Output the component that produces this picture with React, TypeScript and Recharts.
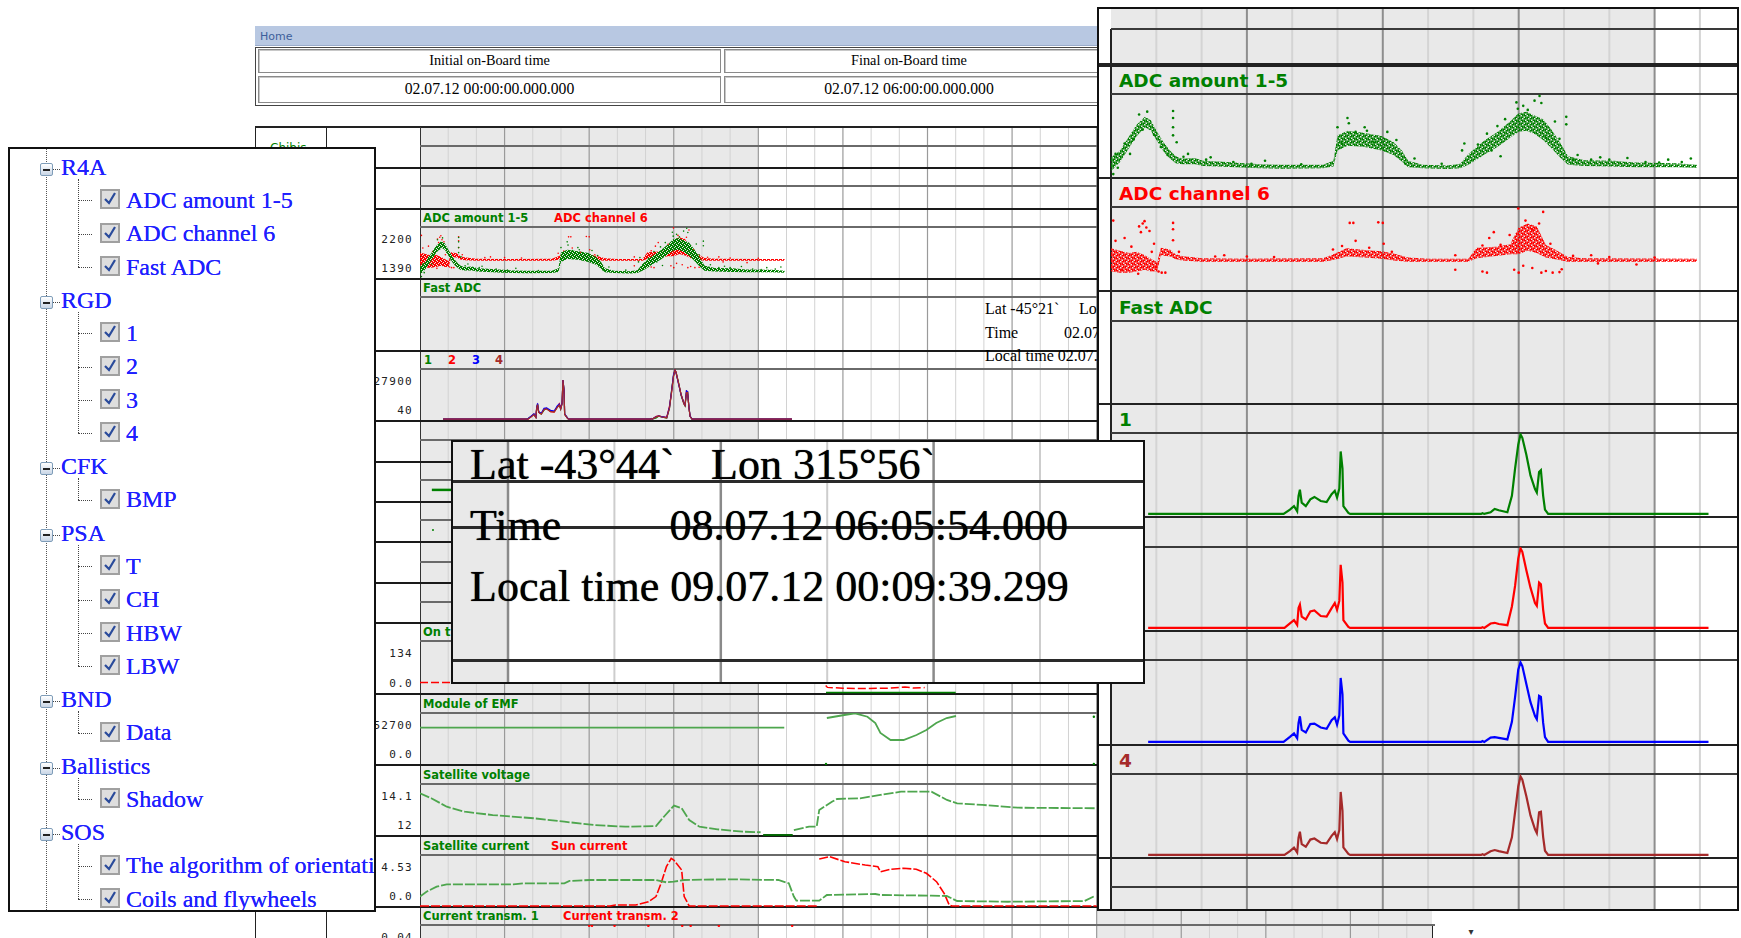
import React from 'react';
import { ComposedChart, Line, Area, XAxis, YAxis, ReferenceArea, ReferenceLine } from 'recharts';

// ===================== DATA =====================
// x unit = one grid interval of the time axis (15 min); y in instrument units

// R4A "ADC amount 1-5": noisy band [k, low, high]
const adcAmountBand: number[][] = [
  [0.0, 1200, 1440], [0.2, 1360, 1560], [0.38, 1580, 1780], [0.56, 1800, 2000], [0.75, 1960, 2140],
  [0.88, 1900, 2080], [1.02, 1720, 1880], [1.16, 1540, 1700], [1.3, 1420, 1560], [1.43, 1340, 1460],
  [1.57, 1320, 1420], [1.85, 1320, 1430], [2.03, 1290, 1380], [2.4, 1280, 1370], [2.94, 1260, 1340],
  [3.31, 1250, 1320], [3.77, 1245, 1310], [4.68, 1250, 1310], [4.91, 1280, 1380], [5.0, 1560, 1820],
  [5.23, 1640, 1900], [5.6, 1620, 1860], [5.97, 1560, 1810], [6.24, 1480, 1700], [6.42, 1370, 1560],
  [6.56, 1270, 1380], [6.88, 1250, 1310], [7.43, 1240, 1300], [7.71, 1250, 1330], [7.89, 1310, 1500],
  [8.07, 1400, 1620], [8.26, 1500, 1740], [8.53, 1620, 1880], [8.81, 1780, 2060], [8.99, 1880, 2200],
  [9.17, 1900, 2230], [9.36, 1840, 2160], [9.54, 1740, 2100], [9.72, 1600, 1920], [9.91, 1440, 1700],
  [10.09, 1310, 1460], [10.45, 1290, 1390], [11.1, 1280, 1380], [11.55, 1270, 1350], [12.47, 1270, 1340],
  [12.93, 1255, 1310],
];
const adcAmountDots: number[][] = [
  [0.05, 1150], [0.1, 1500], [0.3, 1680], [0.42, 1500], [0.62, 2180], [0.8, 2230], [1.37, 2240], [1.37, 2120],
  [1.37, 1960], [1.37, 1820], [1.45, 1700], [1.7, 1500], [2.2, 1440], [3.4, 1380], [5.0, 1960], [5.22, 2120],
  [5.25, 2030], [5.6, 1960], [5.65, 1900], [6.1, 1880], [6.7, 1420], [7.3, 1330], [7.75, 1560], [7.8, 1680],
  [8.3, 1850], [8.53, 1980], [8.6, 1460], [8.95, 2390], [8.98, 2280], [9.1, 2330], [9.35, 2420], [9.46, 2500],
  [9.5, 2380], [9.8, 2060], [10.05, 2140], [10.05, 2010], [10.3, 1480], [10.8, 1440], [11.4, 1430], [12.3, 1400],
  [12.8, 1420], [0.15, 1260], [0.5, 1750], [0.7, 1920], [0.95, 1830], [1.1, 1620], [1.25, 1480], [1.6, 1450],
  [2.1, 1400], [2.7, 1360], [3.1, 1330], [4.2, 1320], [5.1, 1680], [5.4, 1880], [5.8, 1700], [6.3, 1740],
  [6.5, 1330], [8.1, 1660], [8.4, 1560], [8.7, 2100], [9.2, 2260], [9.6, 1780], [9.9, 1760], [10.2, 1400],
  [10.6, 1400], [11.0, 1400], [11.8, 1360], [12.1, 1350], [12.6, 1360],
];
// R4A "ADC channel 6"
const adcCh6Band: number[][] = [
  [0.0, 1420, 1820], [0.2, 1400, 1780], [0.4, 1400, 1740], [0.56, 1420, 1760], [0.75, 1450, 1700],
  [0.88, 1420, 1640], [1.02, 1420, 1580], [1.1, 1700, 1830], [1.3, 1680, 1800], [1.43, 1630, 1720],
  [1.57, 1610, 1690], [2.0, 1590, 1650], [3.0, 1590, 1640], [4.68, 1590, 1650], [4.91, 1620, 1720],
  [5.2, 1680, 1820], [5.6, 1660, 1790], [5.97, 1640, 1770], [6.24, 1610, 1730], [6.56, 1590, 1660],
  [7.0, 1590, 1640], [7.89, 1590, 1640], [8.07, 1650, 1830], [8.5, 1690, 1850], [8.81, 1720, 1890],
  [9.0, 1720, 2180], [9.2, 1780, 2250], [9.4, 1740, 2200], [9.6, 1660, 1880], [9.8, 1630, 1800],
  [10.09, 1590, 1670], [10.45, 1590, 1650], [12.93, 1590, 1640],
];
const adcCh6Dots: number[][] = [
  [0.05, 2300], [0.1, 1950], [0.3, 2000], [0.62, 2200], [0.66, 2100], [0.7, 2250], [0.74, 2290], [0.78, 2180],
  [0.85, 2120], [0.95, 1900], [1.05, 1420], [1.12, 1400], [1.2, 1400], [1.37, 2260], [1.37, 2150], [1.37, 1960],
  [2.5, 1700], [3.0, 1680], [4.9, 1800], [5.27, 2260], [5.35, 2260], [5.4, 1950], [5.9, 2270], [6.0, 2260],
  [6.02, 1900], [7.6, 1700], [7.6, 1450], [8.2, 1420], [8.3, 1400], [8.35, 2000], [8.45, 2100], [8.9, 1450],
  [8.99, 2510], [9.0, 1400], [9.1, 1520], [9.3, 1480], [9.5, 1400], [9.54, 2450], [9.6, 1430], [9.75, 1400],
  [9.9, 1410], [9.95, 1460], [10.6, 1700], [10.75, 1560], [11.6, 1540], [0.25, 1450], [0.45, 1850],
  [0.6, 1380], [0.9, 1760], [1.0, 1500], [1.5, 1760], [2.3, 1680], [3.6, 1670], [5.1, 1860], [5.7, 1830],
  [6.2, 1760], [8.2, 1870], [8.6, 1880], [8.8, 2050], [9.15, 2300], [9.3, 2150], [9.45, 2250], [9.7, 1900],
  [10.2, 1690], [11.0, 1670], [12.0, 1660],
];

// RGD channels 1..4
const rgd1: number[][] = [
  [0.82, 40], [3.81, 40], [3.95, 1570], [4.04, 2790], [4.11, 980], [4.14, 6370], [4.17, 8530], [4.21, 3970],
  [4.3, 2790], [4.4, 5160], [4.49, 5990], [4.63, 4560], [4.76, 4220], [4.87, 6970], [4.94, 8150], [4.99, 5780],
  [5.04, 8900], [5.07, 21930], [5.11, 15940], [5.13, 2790], [5.24, 390], [5.28, 40], [8.17, 40], [8.2, 300],
  [8.24, 40], [8.38, 630], [8.47, 1810], [8.56, 1330], [8.75, 630], [8.85, 6370], [8.92, 15940], [8.99, 24300],
  [9.04, 27900], [9.08, 26700], [9.17, 20700], [9.26, 13540], [9.36, 8770], [9.4, 7560], [9.45, 14720],
  [9.49, 15350], [9.54, 6370], [9.58, 1570], [9.65, 40], [13.19, 40],
];
const rgd2: number[][] = [
  [0.82, 40], [3.83, 40], [3.95, 1600], [4.04, 2790], [4.11, 1100], [4.14, 7000], [4.17, 8170], [4.21, 3990],
  [4.3, 3000], [4.4, 5780], [4.49, 6140], [4.63, 4225], [4.76, 3990], [4.87, 6980], [4.94, 8770], [4.99, 6380],
  [5.04, 9500], [5.07, 22170], [5.11, 15950], [5.13, 2790], [5.24, 400], [5.28, 40], [8.17, 40], [8.2, 320],
  [8.24, 40], [8.38, 1595], [8.47, 1834], [8.56, 1400], [8.75, 1000], [8.85, 7570], [8.92, 14750], [8.99, 24320],
  [9.04, 27910], [9.08, 26710], [9.17, 20130], [9.26, 14150], [9.36, 8770], [9.4, 7810], [9.45, 15950],
  [9.49, 15350], [9.54, 6380], [9.58, 1595], [9.65, 40], [13.19, 40],
];
const rgd3: number[][] = [
  [0.82, 40], [3.81, 40], [3.95, 1800], [4.04, 3000], [4.11, 1300], [4.14, 6600], [4.17, 8900], [4.21, 4200],
  [4.3, 3300], [4.4, 6200], [4.49, 6380], [4.63, 5000], [4.76, 4600], [4.87, 7570], [4.94, 8600], [4.99, 6000],
  [5.04, 9200], [5.07, 22170], [5.11, 16500], [5.13, 3000], [5.24, 450], [5.28, 40], [8.17, 40], [8.2, 350],
  [8.24, 40], [8.38, 1500], [8.47, 1700], [8.56, 1450], [8.75, 900], [8.85, 7000], [8.92, 15500], [8.99, 25000],
  [9.04, 27550], [9.08, 26300], [9.17, 20000], [9.26, 13800], [9.36, 9000], [9.4, 7900], [9.45, 16000],
  [9.49, 15600], [9.54, 6600], [9.58, 1700], [9.65, 40], [13.19, 40],
];
const rgd4: number[][] = [
  [0.82, 40], [3.83, 40], [3.95, 1400], [4.04, 2600], [4.11, 900], [4.14, 6100], [4.17, 8200], [4.21, 3800],
  [4.3, 2900], [4.4, 5420], [4.49, 5800], [4.63, 4300], [4.76, 4100], [4.87, 6700], [4.94, 8000], [4.99, 5600],
  [5.04, 8700], [5.07, 22100], [5.11, 15500], [5.13, 2700], [5.24, 380], [5.28, 40], [8.17, 40], [8.2, 280],
  [8.24, 40], [8.38, 1300], [8.47, 1750], [8.56, 1350], [8.75, 700], [8.85, 6200], [8.92, 15000], [8.99, 24000],
  [9.04, 27550], [9.08, 26400], [9.17, 20500], [9.26, 13900], [9.36, 9000], [9.4, 7700], [9.45, 15000],
  [9.49, 15200], [9.54, 6300], [9.58, 1500], [9.65, 40], [13.19, 40],
];

// short rows (single marks)
const shortRowA: number[][] = [[0.42, 0.55], [1.14, 0.55]];
const shortRowB: number[][] = [[0.46, 0.55]];

// "On t..." row
const onRed: number[][] = [[0, 0], [14.3, 0], [14.45, -22], [15.0, -26], [15.8, -27], [16.6, -26], [17.2, -20], [17.5, -25], [17.9, -23]];
const onGreen: number[][] = [[14.4, -46], [19.0, -46]];

// Module of EMF
const emf: (number | null)[][] = [
  [0, 48690], [12.92, 48690], [12.95, null], [14.43, 66240], [15.05, 71670], [15.43, 74750], [15.87, 68590],
  [16.15, 57190], [16.33, 39100], [16.69, 26430], [17.15, 26430], [17.61, 35480], [17.96, 44530], [18.31, 57190],
  [18.68, 66240], [19.01, 69860],
];
const emfDots: number[][] = [[14.4, -17000], [23.9, 68590], [23.9, -17000]];

// Satellite voltage
const voltage: (number | null)[][] = [
  [0, 14.33], [0.4, 13.97], [0.95, 13.36], [1.59, 13.0], [2.58, 12.76], [4.03, 12.53], [5.12, 12.28], [6.2, 12.04],
  [7.28, 11.92], [8.37, 11.97], [8.65, 12.64], [9.01, 13.44], [9.28, 13.25], [9.55, 12.4], [9.91, 11.92],
  [10.55, 11.73], [11.45, 11.56], [12.08, 11.52], [12.15, null], [13.26, 11.68], [13.8, 11.92], [14.07, 11.92],
  [14.16, 13.13], [14.61, 13.72], [14.79, 13.92], [15.61, 13.97], [16.33, 14.21], [17.06, 14.45], [18.14, 14.45],
  [18.69, 13.85], [19.05, 13.61], [19.95, 13.49], [21.22, 13.29], [23.93, 13.25],
];
const voltageLow: number[][] = [[12.17, 11.32], [13.22, 11.32]];

// Satellite current / Sun current
const satCurrent: number[][] = [
  [0, 0.0], [0.23, 0.76], [0.59, 1.54], [0.95, 1.91], [1.86, 1.91], [3.31, 1.91], [3.67, 2.07], [5.12, 2.07],
  [5.3, 2.43], [6.02, 2.58], [7.28, 2.58], [8.37, 2.58], [8.74, 2.22], [9.0, 2.32], [9.37, 2.58], [10.9, 2.69],
  [12.71, 2.58], [13.08, 2.07], [13.26, 0.0], [13.35, -0.64], [14.16, -0.64], [14.43, 0.25], [16.15, 0.4],
  [16.33, 0.25], [18.13, 0.14], [18.68, 0.09], [19.05, -0.69], [20.86, -0.8], [23.57, -0.69], [23.93, 0.09],
];
const sunCurrent: (number | null)[][] = [
  [0, -1.47], [6.74, -1.47], [6.93, -1.31], [7.65, -1.31], [8.1, -0.8], [8.37, 0.0], [8.55, 2.07], [8.74, 4.66],
  [8.91, 5.95], [9.0, 5.69], [9.28, 4.14], [9.37, 0.0], [9.55, -1.47], [14.1, -1.47], [14.12, null], [14.16, 5.85],
  [14.52, 6.21], [15.07, 5.43], [15.79, 4.91], [16.24, 4.66], [16.33, 3.87], [16.69, 4.25], [17.15, 4.4],
  [17.6, 4.25], [17.96, 3.62], [18.32, 2.32], [18.59, 0.51], [18.77, -1.31], [18.87, -1.47], [24, -1.47],
];
// Current transm. 2 (marks at the top edge)
const transmRed: number[][] = [[6.0, 0.056], [6.1, 0.056], [6.9, 0.056], [8.1, 0.056], [9.3, 0.056], [9.6, 0.056], [10.6, 0.056], [13.2, 0.056]];

// tick labels of the main page
const ticksADC = ['2200', '1390'];
const ticksRGD = ['27900', '40'];
const ticksOn = ['134', '0.0'];
const ticksEMF = ['52700', '0.0'];
const ticksVolt = ['14.1', '12'];
const ticksCur = ['4.53', '0.0'];
const ticksTransm = ['0.04', ''];

// tree
const treeItems: [string, number][] = [
  ['R4A', 0], ['ADC amount 1-5', 1], ['ADC channel 6', 1], ['Fast ADC', 1],
  ['RGD', 0], ['1', 1], ['2', 1], ['3', 1], ['4', 1],
  ['CFK', 0], ['BMP', 1],
  ['PSA', 0], ['T', 1], ['CH', 1], ['HBW', 1], ['LBW', 1],
  ['BND', 0], ['Data', 1],
  ['Ballistics', 0], ['Shadow', 1],
  ['SOS', 0], ['The algorithm of orientation', 1], ['Coils and flywheels', 1],
];

// ===================== STYLE / LAYOUT =====================
const SERIF = '"Liberation Serif", "Times New Roman", serif';
const SANS = '"DejaVu Sans", Verdana, sans-serif';
const MONO = '"DejaVu Sans Mono", monospace';
const GREEN = '#008000';
const RED = '#ff0000';
const BLUE = '#0000ff';
const BROWN = '#a52a2a';
const LGREEN = '#4ea64e';
const SHADE = '#e9e9e9';
const M0 = { top: 0, right: 0, bottom: 0, left: 0 };

type Series = { type: 'band' | 'line' | 'dots'; data: (number | null)[][]; color: string; width?: number; r?: number; cell?: number; dash?: string };

function toRows(s: Series) {
  if (s.type === 'band') return s.data.map((d) => ({ k: d[0], r: [d[1], d[2]] }));
  return s.data.map((d) => ({ k: d[0], v: d[1] }));
}

// stipple cells of a 4x4 tile (holes give the scattered-point texture)
const STIPPLE: number[][] = [
  [0, 0], [1, 0], [3, 0], [1, 1], [2, 1], [3, 1], [0, 2], [2, 2], [3, 2], [0, 3], [1, 3], [2, 3],
];

let patternSeq = 0;

function Plot({ left, top, width, height, xMax, yDomain, series }: { left: number; top: number; width: number; height: number; xMax: number; yDomain: [number, number]; series: Series[] }) {
  return (
    <div style={{ position: 'absolute', left, top, width, height }}>
      {series.map((s, i) => {
        const pid = `stip${patternSeq++}`;
        const c = s.cell ?? 1;
        return (
          <div key={i} style={{ position: 'absolute', left: 0, top: 0 }}>
            <ComposedChart width={width} height={height} margin={M0} data={toRows(s)}>
              {s.type === 'band' && (
                <defs>
                  <pattern id={pid} x={0} y={0} width={4 * c} height={4 * c} patternUnits="userSpaceOnUse">
                    {STIPPLE.map(([a, b], j) => (
                      <rect key={j} x={a * c} y={b * c} width={c} height={c} fill={s.color} />
                    ))}
                  </pattern>
                </defs>
              )}
              <XAxis type="number" dataKey="k" domain={[0, xMax]} hide allowDataOverflow />
              <YAxis type="number" domain={yDomain} hide allowDataOverflow />
              {s.type === 'band' ? (
                <Area type="linear" dataKey="r" stroke="none" fill={`url(#${pid})`} fillOpacity={1} isAnimationActive={false} dot={false} activeDot={false} />
              ) : s.type === 'line' ? (
                <Line type="linear" dataKey="v" stroke={s.color} strokeWidth={s.width ?? 1.5} strokeDasharray={s.dash} dot={false} activeDot={false} connectNulls={false} isAnimationActive={false} />
              ) : (
                <Line type="linear" dataKey="v" stroke="none" dot={{ r: s.r ?? 1, fill: s.color, stroke: 'none', strokeWidth: 0 }} activeDot={false} isAnimationActive={false} />
              )}
            </ComposedChart>
          </div>
        );
      })}
    </div>
  );
}

function GridBg({ left, top, width, height, xMin, xMax, shadeTo, ks, dark, light, darkW, lightW, darkEvery }: { left: number; top: number; width: number; height: number; xMin: number; xMax: number; shadeTo: number; ks: number[]; dark: string; light: string; darkW: number; lightW: number; darkEvery: number }) {
  return (
    <div style={{ position: 'absolute', left, top }}>
      <ComposedChart width={width} height={height} margin={M0} data={[{ k: xMin, y: 0 }, { k: xMax, y: 1 }]}>
        <XAxis type="number" dataKey="k" domain={[xMin, xMax]} hide allowDataOverflow />
        <YAxis type="number" dataKey="y" domain={[0, 1]} hide />
        <ReferenceArea x1={xMin} x2={shadeTo} fill={SHADE} fillOpacity={1} stroke="none" ifOverflow="hidden" />
        {ks.map((k) => {
          const d = k % darkEvery === 0;
          return <ReferenceLine key={k} x={k} stroke={d ? dark : light} strokeWidth={d ? darkW : lightW} />;
        })}
      </ComposedChart>
    </div>
  );
}

function Txt({ x, y, size, family = SERIF, color = '#000', weight = 400, align = 'left', spacing = 0, shadow, children }: any) {
  const transform = align === 'right' ? 'translateX(-100%)' : align === 'center' ? 'translateX(-50%)' : undefined;
  return (
    <div style={{ position: 'absolute', left: x, top: y - 0.845 * size, fontSize: size, lineHeight: `${size}px`, fontFamily: family, color, fontWeight: weight, whiteSpace: 'nowrap', letterSpacing: spacing, transform, textShadow: shadow }}>
      {children}
    </div>
  );
}
const HL = ({ x1, x2, y, w = 1, c = '#222' }: any) => <div style={{ position: 'absolute', left: x1, top: y - w / 2, width: x2 - x1, height: w, background: c }} />;
const VL = ({ x, y1, y2, w = 1, c = '#222' }: any) => <div style={{ position: 'absolute', left: x - w / 2, top: y1, width: w, height: y2 - y1, background: c }} />;

// main page geometry
const MX = 420, MW = 1015, MKMAX = 36;
const rowsMain = [
  { top: 127, sep: 146, bottom: 168 }, { top: 168, sep: 186, bottom: 209 }, { top: 209, sep: 227, bottom: 279 },
  { top: 279, sep: 297, bottom: 351 }, { top: 351, sep: 369, bottom: 421 }, { top: 421, sep: 440, bottom: 462 },
  { top: 462, sep: 480, bottom: 502 }, { top: 502, sep: 520, bottom: 542 }, { top: 542, sep: 562, bottom: 583 },
  { top: 583, sep: 602, bottom: 623 }, { top: 623, sep: 641, bottom: 694 }, { top: 694, sep: 713, bottom: 765 },
  { top: 765, sep: 784, bottom: 836 }, { top: 836, sep: 855, bottom: 907 }, { top: 907, sep: 925, bottom: 978 },
];
const mainTitles: { row: number; items: [string, string, number][] }[] = [
  { row: 2, items: [['ADC amount 1-5', GREEN, 423], ['ADC channel 6', RED, 554]] },
  { row: 3, items: [['Fast ADC', GREEN, 423]] },
  { row: 4, items: [['1', GREEN, 424], ['2', RED, 448], ['3', BLUE, 472], ['4', BROWN, 495]] },
  { row: 10, items: [['On t', GREEN, 423]] },
  { row: 11, items: [['Module of EMF', GREEN, 423]] },
  { row: 12, items: [['Satellite voltage', GREEN, 423]] },
  { row: 13, items: [['Satellite current', GREEN, 423], ['Sun current', RED, 551]] },
  { row: 14, items: [['Current transm. 1', GREEN, 423], ['Current transm. 2', RED, 563]] },
];
const mainTicks: { row: number; labels: string[] }[] = [
  { row: 2, labels: ticksADC }, { row: 4, labels: ticksRGD }, { row: 10, labels: ticksOn }, { row: 11, labels: ticksEMF },
  { row: 12, labels: ticksVolt }, { row: 13, labels: ticksCur }, { row: 14, labels: ticksTransm },
];

const RGD_DOMAIN: [number, number] = [-1040, 28390];
const ADC_DOMAIN: [number, number] = [1083, 2535];

const mainPlots: { row: number; y: [number, number]; series: Series[] }[] = [
  { row: 2, y: ADC_DOMAIN, series: [
    { type: 'band', data: adcCh6Band, color: RED, cell: 1 },
    { type: 'dots', data: adcCh6Dots, color: RED, r: 0.8 },
    { type: 'band', data: adcAmountBand, color: GREEN, cell: 1 },
    { type: 'dots', data: adcAmountDots, color: GREEN, r: 0.8 },
  ] },
  { row: 4, y: RGD_DOMAIN, series: [
    { type: 'line', data: rgd1, color: GREEN, width: 1.2 },
    { type: 'line', data: rgd2, color: RED, width: 1.2 },
    { type: 'line', data: rgd3, color: BLUE, width: 1.2 },
    { type: 'line', data: rgd4, color: BROWN, width: 1.2 },
  ] },
  { row: 6, y: [0, 1], series: [{ type: 'line', data: shortRowA, color: GREEN, width: 2.5 }] },
  { row: 7, y: [0, 1], series: [{ type: 'dots', data: shortRowB, color: GREEN, r: 1 }] },
  { row: 10, y: [-52.4, 191.4], series: [
    { type: 'line', data: onRed, color: RED, width: 1.5, dash: '8 3' },
    { type: 'line', data: onGreen, color: GREEN, width: 1.5 },
  ] },
  { row: 11, y: [-18800, 75290], series: [
    { type: 'line', data: emf, color: LGREEN, width: 1.8 },
    { type: 'dots', data: emfDots, color: GREEN, r: 1.2 },
  ] },
  { row: 12, y: [11.25, 15.0], series: [
    { type: 'line', data: voltage, color: LGREEN, width: 1.8, dash: '10 2' },
    { type: 'line', data: voltageLow, color: '#006400', width: 2 },
  ] },
  { row: 13, y: [-1.62, 6.47], series: [
    { type: 'line', data: sunCurrent, color: RED, width: 1.6, dash: '9 2' },
    { type: 'line', data: satCurrent, color: LGREEN, width: 1.8, dash: '10 2' },
  ] },
  { row: 14, y: [-0.0143, 0.0571], series: [{ type: 'dots', data: transmRed, color: RED, r: 1.3 }] },
];

// right (magnified) panel geometry
const RP = { left: 1097, top: 7, width: 642, height: 904 };
const ROX = RP.left + 2, ROY = RP.top + 2;
const RX = 1111, RW = 626, RKMAX = 626 / 45.3;
const rowsRight = [
  { top: 7, sep: 29, bottom: 64 }, { top: 66, sep: 94, bottom: 178 }, { top: 178, sep: 207, bottom: 291 },
  { top: 291, sep: 321, bottom: 404 }, { top: 404, sep: 433, bottom: 517 }, { top: 517, sep: 547, bottom: 631 },
  { top: 631, sep: 660, bottom: 745 }, { top: 745, sep: 774, bottom: 858 }, { top: 858, sep: 887, bottom: 911 },
];
const rightTitles: [string, string][] = [['', GREEN], ['ADC amount 1-5', GREEN], ['ADC channel 6', RED], ['Fast ADC', GREEN], ['1', GREEN], ['', RED], ['', BLUE], ['4', BROWN], ['', GREEN]];
const rightPlots: { row: number; y: [number, number]; series: Series[] }[] = [
  { row: 1, y: ADC_DOMAIN, series: [
    { type: 'band', data: adcAmountBand, color: GREEN, cell: 1.5 },
    { type: 'dots', data: adcAmountDots, color: GREEN, r: 1.3 },
  ] },
  { row: 2, y: ADC_DOMAIN, series: [
    { type: 'band', data: adcCh6Band, color: RED, cell: 1.5 },
    { type: 'dots', data: adcCh6Dots, color: RED, r: 1.3 },
  ] },
  { row: 4, y: RGD_DOMAIN, series: [{ type: 'line', data: rgd1, color: GREEN, width: 2.2 }] },
  { row: 5, y: RGD_DOMAIN, series: [{ type: 'line', data: rgd2, color: RED, width: 2.2 }] },
  { row: 6, y: RGD_DOMAIN, series: [{ type: 'line', data: rgd3, color: BLUE, width: 2.2 }] },
  { row: 7, y: RGD_DOMAIN, series: [{ type: 'line', data: rgd4, color: BROWN, width: 2.2 }] },
];

const mainKs = Array.from({ length: 35 }, (_, i) => i + 1);
const rightKs = Array.from({ length: 13 }, (_, i) => i + 1);
const popupKs = [0, 1, 2, 3, 4, 5];

// ===================== COMPONENTS =====================
function MainPage() {
  return (
    <>
      {/* Home bar */}
      <div style={{ position: 'absolute', left: 255, top: 26, width: 1180, height: 19, background: '#b8c8e2', borderBottom: '1px solid #9aaccb' }} />
      <Txt x={260} y={40.5} size={11} family={SANS} color="#3d5f9b">Home</Txt>
      {/* time table */}
      <div style={{ position: 'absolute', left: 255, top: 47, width: 1180, height: 59, border: '1px solid #444', boxSizing: 'border-box' }} />
      {[[258, 463], [724, 700]].map(([x, w], i) => (
        <React.Fragment key={i}>
          <div style={{ position: 'absolute', left: x, top: 49, width: w, height: 24, border: '1px solid #8a8a8a', boxShadow: 'inset 1px 1px 0 #c8c8c8', boxSizing: 'border-box' }} />
          <div style={{ position: 'absolute', left: x, top: 76, width: w, height: 27, border: '1px solid #8a8a8a', boxShadow: 'inset 1px 1px 0 #c8c8c8', boxSizing: 'border-box' }} />
        </React.Fragment>
      ))}
      <Txt x={489.5} y={65} size={14.3} align="center">Initial on-Board time</Txt>
      <Txt x={489.5} y={94} size={15.7} align="center">02.07.12 00:00:00.000.000</Txt>
      <Txt x={909} y={65} size={14.3} align="center">Final on-Board time</Txt>
      <Txt x={909} y={94} size={15.7} align="center">02.07.12 06:00:00.000.000</Txt>

      {/* scroll strip below the magnified panel */}
      <div style={{ position: 'absolute', left: 1097, top: 911, width: 335, height: 27, background: SHADE }} />

      {/* grid */}
      <GridBg left={MX} top={127} width={MW} height={811} xMin={0} xMax={MKMAX} shadeTo={12} ks={mainKs} dark="#9a9a9a" light="#d2d2d2" darkW={1.2} lightW={1} darkEvery={3} />

      {/* structure lines */}
      <HL x1={255} x2={1435} y={127} w={1.2} />
      <VL x={255} y1={127} y2={938} />
      <VL x={326} y1={127} y2={938} />
      <VL x={MX} y1={127} y2={938} c="#333" />
      <VL x={1432} y1={925} y2={938} />
      {rowsMain.map((r, i) => (
        <React.Fragment key={i}>
          {i > 0 && <HL x1={326} x2={1435} y={r.top} w={1.2} c="#1a1a1a" />}
          <HL x1={MX} x2={1435} y={r.sep} w={2} c="#6a6a6a" />
        </React.Fragment>
      ))}
      {/* group label */}
      <Txt x={258} y={152} size={10} family={SANS} color="#999">▸</Txt>
      <Txt x={270} y={152} size={12} family={SANS} color={GREEN}>Chibis</Txt>

      {/* titles */}
      {mainTitles.map((t) => t.items.map(([s, c, x], j) => (
        <Txt key={`${t.row}-${j}`} x={x} y={rowsMain[t.row].sep - 4} size={11.5} family={SANS} weight={700} color={c}>{s}</Txt>
      )))}
      {/* tick labels */}
      {mainTicks.map((t) => {
        const r = rowsMain[t.row];
        const h = r.bottom - r.sep;
        return t.labels.map((s, j) => (
          <Txt key={`${t.row}-${j}`} x={413} y={r.sep + h * (j === 0 ? 0.24 : 0.8) + 4} size={11} family={MONO} color="#222" spacing={1.3} align="right">{s}</Txt>
        ));
      })}
      {/* data */}
      {mainPlots.map((p, i) => {
        const r = rowsMain[p.row];
        return <Plot key={i} left={MX} top={r.sep} width={MW} height={r.bottom - r.sep} xMax={MKMAX} yDomain={p.y} series={p.series} />;
      })}
      {/* small tooltip text */}
      <Txt x={985} y={315} size={16}>Lat -45°21`</Txt>
      <Txt x={1079} y={315} size={16}>Lon</Txt>
      <Txt x={985} y={338.5} size={16}>Time</Txt>
      <Txt x={1064} y={338.5} size={16}>02.07.12</Txt>
      <Txt x={985} y={362} size={16}>Local time 02.07.12</Txt>
      <Txt x={1471} y={935} size={10} family={SANS} color="#333" align="center">▾</Txt>
    </>
  );
}

function TreePanel() {
  const OX = 10, OY = 149;
  const rows = treeItems.map(([label, level], i) => ({ label, level, base: 175 + i * 33.27 }));
  const parents: { start: number; end: number }[] = [];
  rows.forEach((r, i) => {
    if (r.level === 0) {
      let last = i;
      while (last + 1 < rows.length && rows[last + 1].level === 1) last++;
      parents.push({ start: i, end: last });
    }
  });
  return (
    <div style={{ position: 'absolute', left: 8, top: 147, width: 368, height: 765, border: '2px solid #111', boxSizing: 'border-box', background: '#fff', overflow: 'hidden' }}>
      <div style={{ position: 'absolute', left: 46 - OX, top: 0, height: 765, borderLeft: '1px dotted #555' }} />
      {parents.map((p, i) => {
        const pb = rows[p.start].base;
        const lb = rows[p.end].base;
        return p.end > p.start ? (
          <div key={i} style={{ position: 'absolute', left: 78 - OX, top: pb + 4 - OY, height: lb - 8 - (pb + 4), borderLeft: '1px dotted #444' }} />
        ) : null;
      })}
      {rows.map((r, i) => (
        <React.Fragment key={i}>
          {r.level === 0 ? (
            <>
              <div style={{ position: 'absolute', left: 40 - OX, top: r.base - 12 - OY, width: 13, height: 13, border: '1px solid #7f9db9', boxSizing: 'border-box', background: 'linear-gradient(#ffffff, #c9d6e6)', borderRadius: 2 }}>
                <div style={{ position: 'absolute', left: 2, top: 4.5, width: 7, height: 2, background: '#222' }} />
              </div>
              <div style={{ position: 'absolute', left: 53 - OX, top: r.base - 6 - OY, width: 7, borderTop: '1px dotted #444' }} />
              <Txt x={61 - OX} y={r.base - OY} size={24} color="#1f1fff" shadow="0 0 0.5px #1f1fff">{r.label}</Txt>
            </>
          ) : (
            <>
              <div style={{ position: 'absolute', left: 78 - OX, top: r.base - 8 - OY, width: 14, borderTop: '1px dotted #444' }} />
              <div style={{ position: 'absolute', left: 100 - OX, top: r.base - 19 - OY, width: 20, height: 20, border: '2px solid #a0a0a0', boxSizing: 'border-box', background: '#dedede' }}>
                <svg width={16} height={16} style={{ position: 'absolute', left: 0, top: 0 }}>
                  <path d="M3 8 L7 12 L13 2" stroke="#2a4b9b" strokeWidth={2.2} fill="none" />
                </svg>
              </div>
              <Txt x={126 - OX} y={r.base - OY} size={24} color="#1f1fff" shadow="0 0 0.5px #1f1fff">{r.label}</Txt>
            </>
          )}
        </React.Fragment>
      ))}
    </div>
  );
}

function RightPanel() {
  return (
    <div style={{ position: 'absolute', left: RP.left, top: RP.top, width: RP.width, height: RP.height, border: '2px solid #111', boxSizing: 'border-box', background: '#fff', overflow: 'hidden' }}>
      <GridBg left={RX - ROX} top={0} width={RW} height={RP.height - 4} xMin={0} xMax={RKMAX} shadeTo={12} ks={rightKs} dark="#8e8e8e" light="#d4d4d4" darkW={2} lightW={2} darkEvery={3} />
      <VL x={RX - ROX} y1={29 - ROY} y2={RP.height} w={2} c="#222" />
      {rowsRight.map((r, i) => (
        <React.Fragment key={i}>
          {i > 0 && <HL x1={0} x2={RP.width} y={r.top - ROY} w={2} c="#222" />}
          {i === 1 && <HL x1={0} x2={RP.width} y={64 - ROY} w={2} c="#222" />}
          <HL x1={RX - ROX} x2={RP.width} y={r.sep - ROY} w={2.5} c="#3a3a3a" />
          {rightTitles[i][0] && (
            <Txt x={1119 - ROX} y={r.sep - 6 - ROY} size={18.5} family={SANS} weight={700} color={rightTitles[i][1]}>{rightTitles[i][0]}</Txt>
          )}
        </React.Fragment>
      ))}
      {rightPlots.map((p, i) => {
        const r = rowsRight[p.row];
        return <Plot key={i} left={RX - ROX} top={r.sep - ROY} width={RW} height={r.bottom - r.sep} xMax={RKMAX} yDomain={p.y} series={p.series} />;
      })}
    </div>
  );
}

function Popup() {
  const L = 451, T = 440, W = 694, H = 244;
  const OX = L + 2, OY = T + 2;
  const sh = '0 0 0.8px #000';
  return (
    <div style={{ position: 'absolute', left: L, top: T, width: W, height: H, border: '2px solid #111', boxSizing: 'border-box', background: '#fff', overflow: 'hidden' }}>
      <GridBg left={0} top={0} width={W - 4} height={H - 4} xMin={-0.517} xMax={5.968} shadeTo={0} ks={popupKs} dark="#8a8a8a" light="#cdcdcd" darkW={2.5} lightW={2} darkEvery={2} />
      <HL x1={0} x2={W} y={481.7 - OY} w={3} c="#2a2a2a" />
      <HL x1={0} x2={W} y={527.3 - OY} w={3} c="#2a2a2a" />
      <HL x1={0} x2={W} y={660 - OY} w={3} c="#2a2a2a" />
      <Txt x={470 - OX} y={480 - OY} size={44} shadow={sh}>Lat -43°44`</Txt>
      <Txt x={711 - OX} y={480 - OY} size={44} shadow={sh}>Lon 315°56`</Txt>
      <Txt x={470 - OX} y={541 - OY} size={44} shadow={sh}>Time</Txt>
      <Txt x={669.6 - OX} y={541 - OY} size={44} shadow={sh}>08.07.12 06:05:54.000</Txt>
      <Txt x={470 - OX} y={602 - OY} size={44} shadow={sh}>Local time 09.07.12 00:09:39.299</Txt>
    </div>
  );
}

export default function App() {
  return (
    <div style={{ position: 'fixed', left: 0, top: 0, width: 1741, height: 938, overflow: 'hidden', background: '#fff' }}>
      <MainPage />
      <TreePanel />
      <RightPanel />
      <Popup />
    </div>
  );
}
